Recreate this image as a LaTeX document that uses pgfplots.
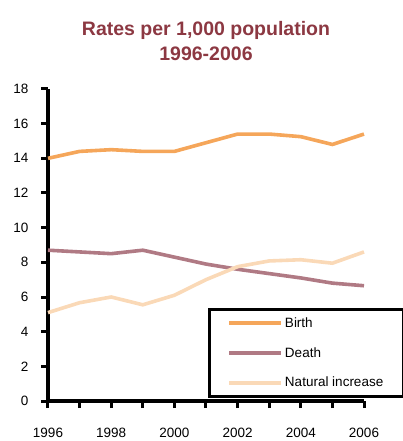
\documentclass[border=0pt]{standalone}
\usepackage{pgfplots}
\pgfplotsset{compat=1.18}
\usepackage{fontspec}
\setmainfont{Liberation Sans}
\definecolor{titlered}{RGB}{140,56,66}
\definecolor{birthc}{RGB}{245,166,90}
\definecolor{deathc}{RGB}{176,122,132}
\definecolor{natc}{RGB}{250,217,183}
\begin{document}
\begin{tikzpicture}
\path[use as bounding box] (-48pt,-40pt) rectangle (355pt,401pt);
\begin{axis}[
  at={(0pt,0pt)}, anchor=south west,
  scale only axis, width=316pt, height=312pt,
  xmin=1996, xmax=2006, ymin=0, ymax=18,
  clip=false,
  axis x line=bottom, axis y line=left,
  axis line style={-, line width=3.8pt, black},
  xtick={1996,1998,...,2006},
  minor xtick={1997,1999,...,2005},
  ytick={0,2,...,18},
  tick align=outside,
  major tick length=7pt, minor tick length=7pt,
  major tick style={black, line width=3pt},
  minor tick style={black, line width=3pt},
  /pgf/number format/1000 sep={},
  /pgf/number format/assume math mode=true,
  tick label style={font=\fontsize{13.5}{16}\selectfont},
  xticklabel style={yshift=-17pt},
  yticklabel style={xshift=-9pt},
  title={Rates per 1,000 population\\1996-2006},
  title style={font=\fontsize{19.5}{24.5}\selectfont\bfseries, text=titlered, align=center, anchor=south, at={(0.5,1)}, yshift=19pt},
  legend style={at={(0.506,0.298)}, anchor=north west, draw=black, line width=3pt,
    inner xsep=18pt, inner ysep=6pt, row sep=14.5pt,
    font=\fontsize{13.5}{16}\selectfont, text=black},
  legend cell align=left,
  legend image code/.code={\draw[#1] (0pt,0pt) -- (52pt,0pt);},
]
\addplot[birthc, line width=3.6pt] coordinates {
 (1996,14.0) (1997,14.4) (1998,14.5) (1999,14.4) (2000,14.4) (2001,14.9)
 (2002,15.4) (2003,15.4) (2004,15.25) (2005,14.8) (2006,15.4)};
\addlegendentry{Birth}
\addplot[deathc, line width=3.6pt] coordinates {
 (1996,8.7) (1997,8.6) (1998,8.5) (1999,8.7) (2000,8.3) (2001,7.9)
 (2002,7.6) (2003,7.35) (2004,7.1) (2005,6.8) (2006,6.65)};
\addlegendentry{Death}
\addplot[natc, line width=3.6pt] coordinates {
 (1996,5.1) (1997,5.67) (1998,6.0) (1999,5.55) (2000,6.1) (2001,7.0)
 (2002,7.75) (2003,8.08) (2004,8.15) (2005,7.95) (2006,8.6)};
\addlegendentry{Natural increase}
\end{axis}
\end{tikzpicture}
\end{document}
